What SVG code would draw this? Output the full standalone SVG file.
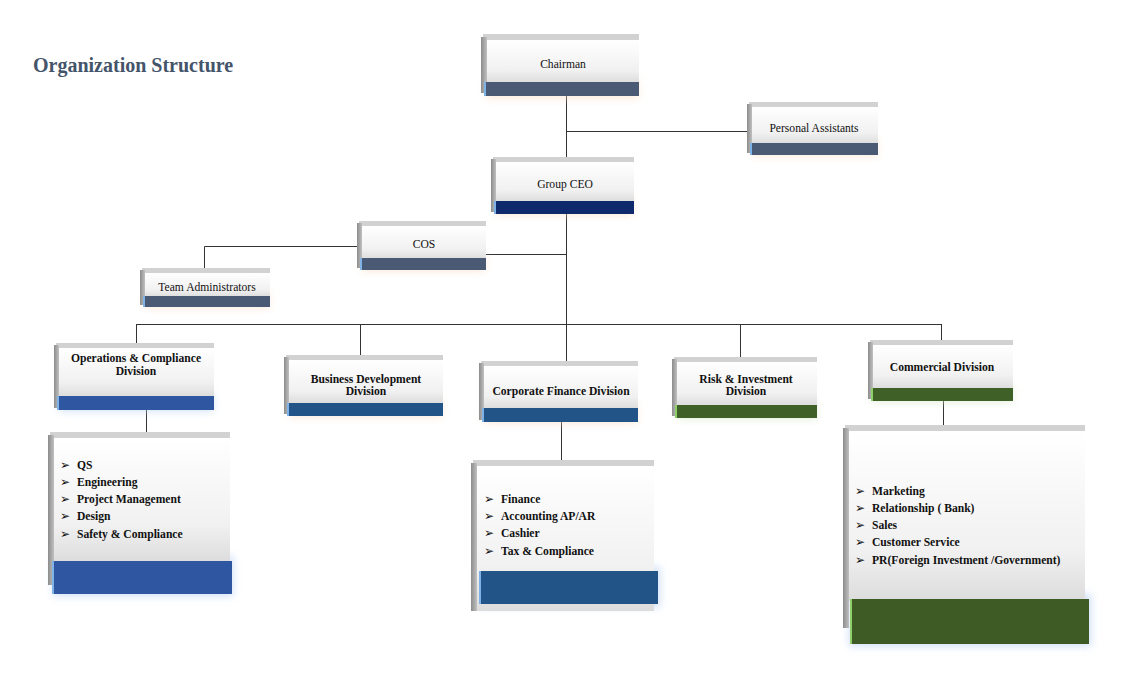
<svg xmlns="http://www.w3.org/2000/svg" width="1140" height="691" viewBox="0 0 1140 691">
<defs>
<linearGradient id="face" x1="0" y1="0" x2="0" y2="1"><stop offset="0" stop-color="#ffffff"/><stop offset="0.7" stop-color="#f1f1f1"/><stop offset="1" stop-color="#dcdcdc"/></linearGradient>
<linearGradient id="left" x1="0" y1="0" x2="1" y2="0"><stop offset="0" stop-color="#8c8c8c"/><stop offset="1" stop-color="#c0c0c0"/></linearGradient>
<filter id="blur" x="-20%" y="-40%" width="140%" height="180%"><feGaussianBlur stdDeviation="4"/></filter>
</defs>
<style>
.top{fill:#d2d2d2}
.lft{fill:url(#left)}
.face{fill:url(#face)}
.hl{fill:#7fb2e6}
.hlg{fill:#8fd06a}
.glowO{fill:#fbd9bf;opacity:0.6;filter:url(#blur)}
.glowB{fill:#bcd2f4;opacity:0.7;filter:url(#blur)}
.glowG{fill:#d5e8c6;opacity:0.7;filter:url(#blur)}
.t{font-family:"Liberation Serif",serif;font-size:11.6px;fill:#111;text-anchor:middle}
.b{font-family:"Liberation Serif",serif;font-size:11.6px;font-weight:bold;fill:#111;text-anchor:middle}
.li{font-family:"Liberation Serif",serif;font-size:11.6px;font-weight:bold;fill:#111}
.bu{font-family:"DejaVu Sans",sans-serif;font-size:12px;fill:#111}
.c{stroke:#333;stroke-width:1;fill:none}
</style>
<rect width="1140" height="691" fill="#ffffff"/>
<text x="33" y="72" font-family="Liberation Serif,serif" font-size="20" font-weight="bold" fill="#44546a">Organization Structure</text>

<g id="connectors">
<path class="c" d="M566.5 96V157M566.5 131.5H749M566.5 214V324M486 254.5H566M357 246.5H204.5V268M136.5 324.5H941.5M136.5 324V343M360.5 324V355M566.5 324V361M740.5 324V357M941.5 324V340M146.5 410V432M561.5 422V460M943.5 401V425"/>
</g>

<g id="chairman">
<rect class="glowO" x="486" y="80" width="152" height="18"/>
<rect class="top" x="483" y="34" width="156" height="6"/>
<rect class="lft" x="481" y="37" width="6" height="56"/>
<rect class="face" x="487" y="40" width="152" height="43"/>
<rect x="484" y="82" width="155" height="14" fill="#4a5a75"/>
<rect class="hl" x="484" y="82" width="2" height="14"/>
<text class="t" x="563" y="68">Chairman</text>
</g>

<g id="pa">
<rect class="glowO" x="752" y="140" width="125" height="16"/>
<rect class="top" x="749" y="102" width="129" height="5"/>
<rect class="lft" x="747" y="104" width="5" height="49"/>
<rect class="face" x="752" y="107" width="126" height="37"/>
<rect x="750" y="143" width="128" height="12" fill="#4a5a75"/>
<rect class="hl" x="750" y="143" width="2" height="12"/>
<text class="t" x="814" y="132">Personal Assistants</text>
</g>

<g id="ceo">
<rect class="glowO" x="496" y="198" width="137" height="17"/>
<rect class="top" x="493" y="157" width="141" height="5"/>
<rect class="lft" x="491" y="159" width="5" height="53"/>
<rect class="face" x="496" y="162" width="138" height="40"/>
<rect x="494" y="201" width="140" height="13" fill="#0f2a6c"/>
<rect class="hl" x="494" y="201" width="2" height="13"/>
<text class="t" x="565" y="188">Group CEO</text>
</g>

<g id="cos">
<rect class="glowO" x="362" y="255" width="123" height="16"/>
<rect class="top" x="359" y="221" width="127" height="5"/>
<rect class="lft" x="357" y="223" width="5" height="45"/>
<rect class="face" x="362" y="226" width="124" height="33"/>
<rect x="360" y="258" width="126" height="12" fill="#4a5a75"/>
<rect class="hl" x="360" y="258" width="2" height="12"/>
<text class="t" x="424" y="248">COS</text>
</g>

<g id="team-admin">
<rect class="glowO" x="145" y="293" width="124" height="15"/>
<rect class="top" x="142" y="268" width="128" height="5"/>
<rect class="lft" x="140" y="270" width="5" height="35"/>
<rect class="face" x="145" y="273" width="125" height="24"/>
<rect x="143" y="296" width="127" height="11" fill="#4a5a75"/>
<rect class="hl" x="143" y="296" width="2" height="11"/>
<text class="t" x="207" y="291">Team Administrators</text>
</g>

<g id="ops">
<rect class="glowB" x="59" y="393" width="154" height="18"/>
<rect class="top" x="56" y="343" width="158" height="5"/>
<rect class="lft" x="54" y="345" width="5" height="63"/>
<rect class="face" x="59" y="348" width="155" height="49"/>
<rect x="57" y="396" width="157" height="14" fill="#2f56a0"/>
<rect class="hl" x="57" y="396" width="2" height="14"/>
<text class="b" x="136" y="362">Operations &amp; Compliance</text>
<text class="b" x="136" y="375">Division</text>
</g>

<g id="bizdev">
<rect class="glowO" x="289" y="400" width="153" height="17"/>
<rect class="top" x="286" y="355" width="157" height="5"/>
<rect class="lft" x="284" y="357" width="5" height="57"/>
<rect class="face" x="289" y="360" width="154" height="44"/>
<rect x="287" y="403" width="156" height="13" fill="#235488"/>
<rect class="hl" x="287" y="403" width="2" height="13"/>
<text class="b" x="366" y="383">Business Development</text>
<text class="b" x="366" y="395">Division</text>
</g>

<g id="corpfin">
<rect class="glowO" x="484" y="405" width="153" height="18"/>
<rect class="top" x="481" y="361" width="157" height="5"/>
<rect class="lft" x="479" y="363" width="5" height="57"/>
<rect class="face" x="484" y="366" width="154" height="43"/>
<rect x="482" y="408" width="156" height="14" fill="#235488"/>
<rect class="hl" x="482" y="408" width="2" height="14"/>
<text class="b" x="561" y="395">Corporate Finance Division</text>
</g>

<g id="risk">
<rect class="glowG" x="677" y="402" width="139" height="17"/>
<rect class="top" x="674" y="357" width="143" height="5"/>
<rect class="lft" x="672" y="359" width="5" height="57"/>
<rect class="face" x="677" y="362" width="140" height="44"/>
<rect x="675" y="405" width="142" height="13" fill="#3f6127"/>
<rect class="hlg" x="675" y="405" width="2" height="13"/>
<text class="b" x="746" y="383">Risk &amp; Investment</text>
<text class="b" x="746" y="395">Division</text>
</g>

<g id="commercial">
<rect class="glowG" x="873" y="385" width="139" height="17"/>
<rect class="top" x="870" y="340" width="143" height="5"/>
<rect class="lft" x="868" y="342" width="5" height="57"/>
<rect class="face" x="873" y="345" width="140" height="44"/>
<rect x="871" y="388" width="142" height="13" fill="#3f6127"/>
<rect class="hlg" x="871" y="388" width="2" height="13"/>
<text class="b" x="942" y="371">Commercial Division</text>
</g>

<g id="ops-list">
<rect class="glowB" x="53" y="556" width="180" height="40"/>
<rect class="top" x="50" y="432" width="180" height="6"/>
<rect class="lft" x="48" y="435" width="6" height="150"/>
<rect class="face" x="54" y="438" width="176" height="124"/>
<rect x="52" y="561" width="180" height="33" fill="#2f56a0"/>
<rect class="hl" x="52" y="561" width="2" height="33"/>
<text class="bu" x="60" y="469">➢</text><text class="li" x="77" y="469">QS</text>
<text class="bu" x="60" y="486">➢</text><text class="li" x="77" y="486">Engineering</text>
<text class="bu" x="60" y="503">➢</text><text class="li" x="77" y="503">Project Management</text>
<text class="bu" x="60" y="520">➢</text><text class="li" x="77" y="520">Design</text>
<text class="bu" x="60" y="538">➢</text><text class="li" x="77" y="538">Safety &amp; Compliance</text>
</g>

<g id="fin-list">
<rect class="glowB" x="478" y="567" width="182" height="40"/>
<rect class="top" x="473" y="460" width="181" height="6"/>
<rect class="lft" x="471" y="463" width="6" height="148"/>
<rect class="face" x="477" y="466" width="177" height="145"/>
<rect x="479" y="571" width="179" height="33" fill="#235488"/>
<rect class="hl" x="479" y="571" width="2" height="33"/>
<text class="bu" x="484" y="503">➢</text><text class="li" x="501" y="503">Finance</text>
<text class="bu" x="484" y="520">➢</text><text class="li" x="501" y="520">Accounting AP/AR</text>
<text class="bu" x="484" y="537">➢</text><text class="li" x="501" y="537">Cashier</text>
<text class="bu" x="484" y="555">➢</text><text class="li" x="501" y="555">Tax &amp; Compliance</text>
</g>

<g id="commercial-list">
<rect class="glowB" x="849" y="594" width="242" height="52"/>
<rect class="top" x="845" y="425" width="240" height="6"/>
<rect class="lft" x="843" y="428" width="6" height="200"/>
<rect class="face" x="849" y="431" width="236" height="170"/>
<rect x="850" y="599" width="239" height="45" fill="#3e5a25"/>
<rect class="hlg" x="850" y="599" width="2" height="45"/>
<text class="bu" x="855" y="495">➢</text><text class="li" x="872" y="495">Marketing</text>
<text class="bu" x="855" y="512">➢</text><text class="li" x="872" y="512">Relationship ( Bank)</text>
<text class="bu" x="855" y="529">➢</text><text class="li" x="872" y="529">Sales</text>
<text class="bu" x="855" y="546">➢</text><text class="li" x="872" y="546">Customer Service</text>
<text class="bu" x="855" y="564">➢</text><text class="li" x="872" y="564">PR(Foreign Investment /Government)</text>
</g>
</svg>
